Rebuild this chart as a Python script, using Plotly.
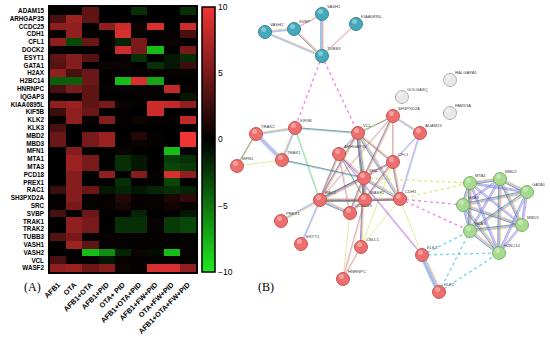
import numpy as np
import plotly.graph_objects as go

W, H = 550, 339

genes = ["ADAM15", "ARHGAP35", "CCDC25", "CDH1", "CFL1", "DOCK2", "ESYT1", "GATA1", "H2AX",
         "H2BC14", "HNRNPC", "IQGAP3", "KIAA0895L", "KIF5B", "KLK2", "KLK3", "MBD2", "MBD3",
         "MFN1", "MTA1", "MTA3", "PCD18", "PREX1", "RAC1", "SH3PXD2A", "SRC", "SVBP", "TRAK1",
         "TRAK2", "TUBB3", "VASH1", "VASH2", "VCL", "WASF2"]
conditions = ["AFB1", "OTA", "AFB1+OTA", "AFB1+PID", "OTA+ PID", "AFB1+OTA+PID",
              "AFB1+FW+PID", "OTA+FW+PID", "AFB1+OTA+FW+PID"]

afb1 = [0, 3, 6, 0.3, 6, 0.3, 4, 3.5, 6, -4, 3, 0.3, 6, 2.5, 0.3, 3, 4.5, 4.5, 0, 0, 0, 0, 0, 2.5, 0, 0.3, 3, 0, 0, 3.5, 0.3, 0, 3, 6]
ota = [0, 6.5, 6, 6, -3, 0, 5.5, 5.5, 3, -4, 5, 0.3, 6.5, 6, 6, 0, 0, 0, 5.5, 6.5, 6.5, 5.5, 5.5, 5.5, 5.5, 5, 0, 6, 6, 5, 6.5, 0, 0.3, 6.5]
afb1_ota = [4, 4, 0, 0.3, 4.5, 0, 3.5, 0, 4.5, 4.5, 4, 4, 4, 4.5, 0.3, 0, 5, 5, 0, 5, 5, 0, 0, 4.5, 0.3, 0.3, 4.5, 5, 5, 0.3, 4, -8, 0.3, 4.5]
afb1_pid = [0, 0, 6, 0.3, 0, 0.3, 0, 0.5, 0, 0, 0.3, 0, 5, 0, 5.5, 0, 6.5, 6.5, 0, 0, 0, 6, 0, -1, 0.3, 0.3, 0, 0, 0, 0.3, 0.3, -6, -1, 5.5]
ota_pid = [0, 0, 8.5, 9, -1.5, 8.5, 0.3, 0.5, 0.3, -8, 0.3, 0, 0.5, 0, 0.3, 0, 0, 0, 0.5, -2, -2, 0, -2, -1.5, 1.5, 1, 0, -2, -2, 0.3, 0.3, -1.5, 0.3, 0.5]
afb1_ota_pid = [-2, 0, 0.5, 0.3, 5, 5, -2, 0, 0.3, 9, 0.3, 0.3, 0.3, 0, 0.5, 0, 1.5, 0.5, 0, -1, -1, 5.5, 0, -1, 0.3, 0.3, -1.5, -2, -2, 0.3, 0.3, 0.5, 0.3, 0.3]
afb1_fw_pid = [0, 0, 9, 0.3, 0, -8, 0, -2, 0.3, -7, 0.3, 0, 8.5, 8.5, 0.3, 0, 0.3, 0.3, 0, 0, 0, 0.3, 0, -1.5, 0.3, 0.3, 0, 0.3, 0.3, 0.3, 0.3, -0.5, 0.3, 9]
ota_fw_pid = [0, 0, 0, 0.3, 0.5, 0, -1, -1, 0.3, 0, 8, 0, 8, 0, 0.3, 0, 0, 0, -8, -2.5, -3, 9, -3, -2, 1.2, 0.8, 0, -2.5, -2.5, 0.3, 0.3, -8, 0.3, 9]
afb1_ota_fw_pid = [-2, 0, 8.5, 3, 0, 5, -2, 2.5, 0.3, 0, 0.3, -1, 6, 0, 8, 0, 10, 10, 0, -2, -2.5, 6, 0, -1.5, 2, 0.3, -1, -3, -3, 0.3, 0.3, 0.3, 0.3, 6]

cbar_ticks = [-10, -5, 0, 5, 10]

# network (STRING) layout, in pixel-like layout units
node_names = ["VASH2", "SVBP", "VASH1", "KIAA0895L", "TUBB3",
              "TRAK2", "KIF5B", "VCL", "MFN1", "TRAK1", "ARHGAP35", "SRC", "RAC1", "WASF2",
              "CFL1", "SH3PXD2A", "ADAM15", "CCDC25", "PREX1", "ESYT1", "CBLL1", "HNRNPC",
              "CDH1", "KLK3", "KLK2",
              "GOLGA8Q", "RALGAPA1", "FAM53A",
              "MTA1", "MBD2", "GATA1", "MTA3", "MBD3", "H2AX", "H2BC14"]
node_x = [265, 294, 322, 356, 322,
          256, 295, 358, 237, 282, 339, 364, 320, 365,
          393, 393, 420, 350, 281, 301, 361, 343,
          400, 422, 439,
          402, 450, 450,
          470, 500, 527, 463, 522, 470, 499]
node_y = [32, 29, 14, 24, 56,
          134, 128, 133, 166, 160, 154, 178, 200, 200,
          162, 116, 133, 213, 221, 244, 247, 279,
          199, 255, 292,
          97, 80, 113,
          183, 179, 192, 205, 225, 231, 253]
node_group = ["c"] * 5 + ["r"] * 20 + ["n"] * 3 + ["g"] * 7

edge_list = [
    ("VASH2", "SVBP", "ymc", "solid"), ("VASH2", "TUBB3", "ymc", "solid"), ("SVBP", "TUBB3", "ymk", "solid"),
    ("SVBP", "VASH1", "ym", "solid"), ("VASH1", "TUBB3", "ymcp", "solid"), ("KIAA0895L", "TUBB3", "ym", "solid"),
    ("TUBB3", "KIF5B", "m", "dot"), ("TUBB3", "VCL", "m", "dot"),
    ("TRAK2", "KIF5B", "ymc", "solid"), ("TRAK2", "TRAK1", "cpmpc", "solid"), ("TRAK2", "MFN1", "yk", "solid"),
    ("MFN1", "TRAK1", "y", "solid"), ("TRAK1", "KIF5B", "ymc", "solid"), ("KIF5B", "VCL", "kc", "solid"),
    ("KIF5B", "RAC1", "yc", "solid"), ("TRAK1", "SRC", "kc", "solid"),
    ("VCL", "ARHGAP35", "ymc", "solid"), ("VCL", "SRC", "ymck", "solid"), ("VCL", "SH3PXD2A", "yk", "solid"),
    ("VCL", "CFL1", "ymk", "solid"), ("VCL", "RAC1", "ymk", "solid"), ("VCL", "WASF2", "ymck", "solid"),
    ("VCL", "CDH1", "ymck", "solid"),
    ("ARHGAP35", "RAC1", "ymk", "solid"), ("ARHGAP35", "SRC", "ymk", "solid"), ("ARHGAP35", "CCDC25", "ym", "solid"),
    ("ARHGAP35", "WASF2", "k", "solid"),
    ("SH3PXD2A", "ADAM15", "ymc", "solid"), ("SH3PXD2A", "SRC", "ymk", "solid"), ("SH3PXD2A", "CFL1", "ym", "solid"),
    ("SH3PXD2A", "RAC1", "ym", "solid"), ("ADAM15", "CFL1", "mc", "solid"), ("ADAM15", "CDH1", "cm", "solid"),
    ("CFL1", "SRC", "m", "dot"), ("CFL1", "RAC1", "ymk", "solid"), ("CFL1", "WASF2", "ymk", "solid"),
    ("CFL1", "CDH1", "ymk", "solid"), ("CFL1", "CBLL1", "y", "solid"),
    ("SRC", "RAC1", "ymck", "solid"), ("SRC", "WASF2", "ymck", "solid"), ("SRC", "CCDC25", "ymk", "solid"),
    ("SRC", "CDH1", "ymck", "solid"), ("SRC", "CBLL1", "ymk", "solid"),
    ("RAC1", "PREX1", "ymc", "solid"), ("RAC1", "ESYT1", "mc", "solid"), ("RAC1", "WASF2", "ymck", "solid"),
    ("RAC1", "CCDC25", "ymck", "solid"), ("RAC1", "CDH1", "ymk", "solid"),
    ("WASF2", "CCDC25", "ymk", "solid"), ("WASF2", "CDH1", "ymk", "solid"), ("CCDC25", "HNRNPC", "y", "solid"),
    ("WASF2", "HNRNPC", "ym", "solid"), ("CBLL1", "CDH1", "y", "solid"), ("CBLL1", "HNRNPC", "ym", "solid"),
    ("CDH1", "KLK3", "y", "solid"), ("ARHGAP35", "KLK3", "mp", "solid"), ("KLK3", "KLK2", "ymcppc", "solid"),
    ("SRC", "MTA1", "y", "dot"), ("CDH1", "MTA1", "y", "dot"), ("CDH1", "MTA3", "m", "dot"),
    ("CDH1", "H2AX", "m", "dot"), ("KLK3", "H2AX", "c", "dot"), ("KLK3", "H2BC14", "c", "dot"),
    ("KLK2", "H2AX", "c", "dot"), ("KLK2", "H2BC14", "c", "dot"),
]
green_nodes = ["MTA1", "MBD2", "GATA1", "MTA3", "MBD3", "H2AX", "H2BC14"]
for i in range(len(green_nodes)):
    for j in range(i + 1, len(green_nodes)):
        edge_list.append((green_nodes[i], green_nodes[j], "ymck" if (i + j) % 2 else "mcp", "solid"))

edge_colors = {"y": "#cfe04a", "m": "#e55ae5", "c": "#3ec8e6", "k": "#505050", "p": "#7a6ad8"}
group_fill = {"c": "#45a9bc", "r": "#ee6e6e", "g": "#a6da8e", "n": "#e8e8e8"}
group_line = {"c": "#2d7f8f", "r": "#bd4c4c", "g": "#72ad60", "n": "#a8a8a8"}

fig = go.Figure()

z = np.array([afb1, ota, afb1_ota, afb1_pid, ota_pid, afb1_ota_pid,
              afb1_fw_pid, ota_fw_pid, afb1_ota_fw_pid]).T

fig.add_trace(go.Heatmap(
    z=z, x=conditions, y=genes, zmin=-10, zmax=10,
    colorscale=[[0, "rgb(30,235,30)"], [0.5, "rgb(0,0,0)"], [1, "rgb(240,52,52)"]],
    colorbar=dict(x=202 / W, xanchor="left", y=1 - 7 / H, yanchor="top",
                  len=265 / H, lenmode="fraction", thickness=13, thicknessmode="pixels",
                  outlinecolor="black", outlinewidth=1.5, xpad=0, ypad=0,
                  tickvals=cbar_ticks, ticks="", tickfont=dict(size=8.5, color="black",
                                                               family="Liberation Sans")),
    showscale=True, xaxis="x", yaxis="y"))

# edges
idx = {n: i for i, n in enumerate(node_names)}
seg = {}
for a, b, kinds, dash in edge_list:
    x0, y0 = node_x[idx[a]], node_y[idx[a]]
    x1, y1 = node_x[idx[b]], node_y[idx[b]]
    dx, dy = x1 - x0, y1 - y0
    L = (dx * dx + dy * dy) ** 0.5
    px, py = -dy / L, dx / L
    n = len(kinds)
    for k, col in enumerate(kinds):
        off = (k - (n - 1) / 2) * 0.9
        key = (col, dash)
        seg.setdefault(key, ([], []))
        seg[key][0].extend([x0 + px * off, x1 + px * off, None])
        seg[key][1].extend([y0 + py * off, y1 + py * off, None])

for (col, dash), (xs, ys) in seg.items():
    fig.add_trace(go.Scatter(x=xs, y=ys, mode="lines", xaxis="x2", yaxis="y2",
                             line=dict(color=edge_colors[col], width=0.8 if dash == "solid" else 1.3,
                                       dash=dash),
                             opacity=0.75, hoverinfo="skip", showlegend=False))

# nodes
for g in ["c", "r", "n", "g"]:
    sel = [i for i, gg in enumerate(node_group) if gg == g]
    xs = [node_x[i] for i in sel]
    ys = [node_y[i] for i in sel]
    fig.add_trace(go.Scatter(
        x=xs, y=ys, mode="markers", xaxis="x2", yaxis="y2",
        marker=dict(size=13, color=group_fill[g], line=dict(color=group_line[g], width=0.9)),
        hoverinfo="skip", showlegend=False))
    fig.add_trace(go.Scatter(
        x=[v - 1.5 for v in xs], y=[v - 2.5 for v in ys], mode="markers", xaxis="x2", yaxis="y2",
        marker=dict(size=5, color="rgba(255,255,255,0.35)", line=dict(width=0)),
        hoverinfo="skip", showlegend=False))

fig.add_trace(go.Scatter(
    x=[v + 5 for v in node_x], y=[v - 7 for v in node_y], mode="text", xaxis="x2", yaxis="y2",
    text=node_names, textposition="middle right",
    textfont=dict(size=4.2, color="#444", family="Liberation Sans"),
    hoverinfo="skip", showlegend=False))

fig.add_annotation(x=22 / W, y=1 - 296 / H, xref="paper", yref="paper", text="(A)", showarrow=False,
                   font=dict(family="Liberation Serif", size=12, color="black"))
fig.add_annotation(x=266 / W, y=1 - 296 / H, xref="paper", yref="paper", text="(B)", showarrow=False,
                   font=dict(family="Liberation Serif", size=12, color="black"))

fig.update_layout(
    width=W, height=H, margin=dict(l=0, r=0, t=0, b=0, autoexpand=False),
    paper_bgcolor="white", plot_bgcolor="white",
    xaxis=dict(domain=[50 / W, 196 / W], tickangle=-45, ticks="", showline=True, mirror=True,
               linecolor="black", linewidth=1.5, ticklabelstandoff=4, automargin=False,
               tickfont=dict(size=7.2, family="Liberation Sans", weight="bold", color="black")),
    yaxis=dict(domain=[1 - 272 / H, 1 - 7 / H], autorange="reversed", ticks="", showline=True,
               mirror=True, linecolor="black", linewidth=1.5, ticklabelstandoff=3, automargin=False,
               tickmode="array", tickvals=genes, ticktext=genes,
               tickfont=dict(size=6.3, family="Liberation Sans", weight="bold", color="black")),
    xaxis2=dict(domain=[220 / W, 1], range=[220, 550], visible=False, anchor="y2"),
    yaxis2=dict(domain=[0, 1], range=[339, 0], visible=False, anchor="x2"),
)

fig.write_html("out.html", config={"displayModeBar": False},
               post_script="document.body.style.margin='0px';")
